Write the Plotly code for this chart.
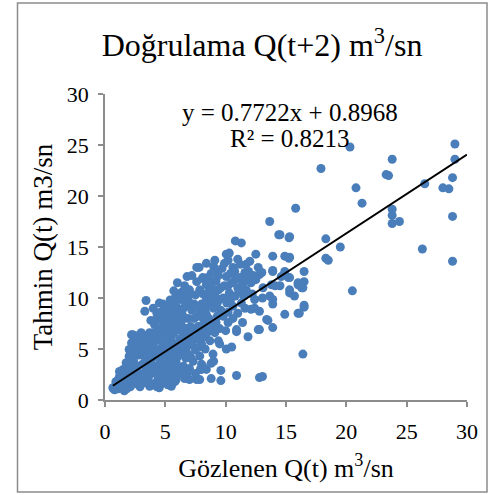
import plotly.graph_objects as go

obs = [
    29.0, 29.0, 28.8, 28.0, 28.5, 28.8, 28.8, 26.5, 26.3, 23.8, 23.3, 23.5, 20.8, 21.3, 23.8, 23.8, 23.8, 24.4,
    20.3, 17.9, 18.3, 19.5, 15.8, 14.5, 15.3, 20.5, 18.3, 18.5, 16.5, 16.5, 16.4, 16.5, 16.1, 16.4,
    15.3, 15.3, 14.5, 15.3, 15.3, 16.0, 16.3, 15.7, 14.9, 16.0, 13.65, 14.4, 15.25, 10.8, 11.3, 12.5, 13.9, 14.9,
    15.25, 10.3, 9.1, 10.2, 12.7, 12.8, 13.9, 15.2, 16.0, 14.1, 13.05, 13.65, 16.5, 11.7, 12.1, 11.4, 8.1, 7.8,
    10.75, 11.2, 13.9, 13.0, 11.7, 11.6, 12.5, 14.9, 14.6, 13.1, 13.8, 12.4, 13.9, 12.1, 13.4, 12.7,
    13.9, 13.5, 13.9, 12.8, 12.4, 12.8, 11.85, 11.4, 10.9, 10.2, 10.5, 10.05, 9.4, 9.5, 9.1, 8.4, 8.95, 9.0,
    8.8, 8.0, 8.0, 9.6, 9.6, 8.8, 10.9, 12.8, 13.05, 7.85, 8.1, 10.9,
    3.4, 4.0, 3.3, 4.8, 5.5, 5.7, 6.0, 6.3, 6.8, 7.6, 8.1, 9.0, 10.05, 6.4, 6.9, 6.3, 7.0, 7.85, 8.4, 9.2,
    9.4, 9.9, 10.05, 8.4, 9.5, 5.9, 6.7, 6.7, 4.25, 2.3, 3.0,
    0.65, 0.9, 1.2, 1.5, 1.75, 2.0, 2.0, 2.2, 2.2, 3.0, 3.7, 4.4, 4.1, 4.5, 4.5, 8.4, 8.4, 7.85, 7.3, 6.9,
    6.7, 7.85, 8.1, 8.4, 5.9, 5.6, 5.9, 6.6, 7.0, 7.6, 6.5, 5.5, 4.9, 0.7, 1.75, 2.9, 3.7, 4.5, 5.2, 4.4,
    5.1, 3.1, 1.2, 0.8, 1.6, 5.5, 5.8, 6.0, 2.2,
    1.0, 1.1, 1.3, 1.4, 1.7, 1.8, 1.9, 1.6, 2.0, 2.1, 2.0, 2.3, 2.4, 2.5, 2.6, 2.5, 2.6,
    2.8, 2.9, 3.0, 3.2, 3.1, 3.3, 3.4, 3.5, 3.3, 3.6, 3.7, 3.8, 3.9, 4.0, 4.1, 3.6,
    4.2, 4.3, 4.4, 4.5, 4.6, 4.7, 4.8, 4.9, 4.7, 5.0, 4.3, 3.8,
    5.0, 5.2, 5.3, 5.4, 5.5, 5.6, 5.7, 5.3, 5.8, 5.2, 5.0,
    6.0, 6.1, 6.2, 6.3, 6.2, 6.4, 6.0, 6.5, 6.3,
    6.8, 7.0, 7.1, 6.9, 7.2, 7.4, 7.0, 7.3, 7.5, 7.6, 7.8, 7.7, 7.9,
    8.2, 8.3, 8.6, 8.7, 8.9, 8.5, 8.8, 9.2, 9.0, 9.3, 8.0, 8.3, 8.9, 9.6, 9.8, 9.7,
    10.1, 10.3, 10.5, 10.2, 10.6, 10.8, 11.0, 11.2, 10.6, 11.0, 11.3, 11.5, 11.8, 10.4,
    0.9, 1.1, 1.2, 1.4, 1.5, 1.3,
    1.7, 1.8, 1.9, 2.1, 2.2, 2.3, 2.4, 2.4, 2.2, 2.6, 2.7, 2.5, 2.8, 2.7, 2.8,
    3.0, 3.0, 3.1, 3.2, 3.3, 3.4, 3.5, 3.5, 3.6, 3.7, 3.8, 3.9, 3.9, 4.0, 4.0, 4.1, 4.2, 4.2, 4.3,
    4.4, 4.4, 4.5, 4.5, 4.6, 4.6, 4.7, 4.8, 4.8, 4.8, 4.9, 5.0, 5.0, 4.6,
    5.1, 5.2, 5.3, 5.4, 5.5, 5.6, 5.6, 5.7, 5.8, 5.9, 5.9, 6.0, 5.4, 5.8, 5.5,
    6.1, 6.2, 6.3, 6.4, 6.5, 6.6, 6.6, 6.7, 6.8, 6.9, 6.8, 6.1, 6.6, 7.0,
    7.1, 7.2, 7.3, 7.4, 7.5, 7.6, 7.7, 7.8, 7.9, 7.2, 7.5, 7.9,
    8.0, 8.1, 8.2, 8.3, 8.5, 8.6, 8.7, 8.8, 9.0, 8.4, 8.7,
    9.1, 9.3, 9.4, 9.5, 9.6, 9.8, 9.9, 9.2, 10.0,
    10.2, 10.4, 10.6, 10.8, 11.0, 11.1, 11.4, 11.6, 11.9, 12.2, 12.0, 12.3,
]
pred = [
    25.1, 23.6, 21.8, 20.8, 20.7, 18.0, 13.6, 21.2, 14.8, 23.6, 22.1, 22.0, 20.8, 19.3, 18.7, 18.1, 17.3, 17.5,
    24.8, 22.7, 15.8, 15.0, 18.8, 16.2, 16.0, 10.7, 13.9, 13.7, 12.6, 11.6, 11.0, 9.1, 8.5, 4.5,
    14.0, 12.0, 11.2, 10.8, 10.5, 11.5, 11.0, 10.2, 8.4, 8.5, 17.5, 16.2, 15.9, 15.6, 15.4, 14.3, 14.1, 14.1,
    13.9, 14.4, 13.7, 13.7, 13.0, 12.3, 12.7, 12.0, 11.3, 11.2, 10.0, 10.2, 9.3, 10.8, 11.5, 12.0, 12.0, 13.0,
    12.6, 13.3, 12.6, 12.5, 13.3, 12.5, 11.8, 12.6, 12.1, 11.0, 11.3, 9.85, 9.85, 8.9, 7.9, 6.9,
    9.4, 7.8, 7.1, 6.9, 9.0, 8.7, 6.2, 7.6, 6.7, 7.6, 5.2, 5.0, 5.8, 5.5, 6.6, 6.5, 4.5, 3.8,
    3.6, 3.5, 3.0, 2.9, 1.9, 2.1, 2.4, 2.2, 2.3, 2.0, 6.6, 6.9,
    9.75, 9.0, 8.7, 9.4, 9.4, 10.7, 11.5, 10.5, 12.1, 13.0, 11.9, 13.1, 14.3, 10.6, 10.2, 9.85, 9.5, 10.8, 11.3, 11.65,
    10.8, 11.2, 12.1, 9.85, 9.85, 9.2, 9.2, 9.7, 7.9, 6.4, 6.4,
    1.2, 1.8, 2.3, 3.0, 3.65, 4.3, 4.95, 5.6, 6.4, 6.6, 6.6, 6.6, 7.4, 7.9, 9.5, 8.4, 6.6, 7.2, 5.9, 4.5,
    4.1, 4.3, 3.3, 3.0, 3.65, 2.8, 2.0, 2.1, 2.0, 2.0, 4.95, 4.6, 3.3, 1.1, 1.2, 1.3, 1.35, 1.2, 1.5, 2.2,
    2.3, 2.0, 2.8, 1.0, 0.9, 1.35, 1.8, 2.7, 4.8,
    1.5, 2.0, 1.4, 2.5, 1.6, 2.4, 3.2, 2.0, 1.8, 2.8, 3.6, 4.0, 5.0, 5.8, 1.6, 2.4, 3.3,
    4.4, 5.2, 5.9, 2.6, 3.5, 4.2, 5.0, 5.8, 1.7, 2.2, 3.0, 3.8, 4.6, 5.4, 6.2, 6.2,
    1.7, 2.7, 3.4, 4.2, 5.0, 5.8, 6.6, 7.3, 8.2, 8.6, 8.5, 7.8,
    1.9, 2.9, 3.9, 5.4, 6.2, 7.0, 7.8, 8.9, 8.5, 6.8, 4.4,
    4.2, 5.2, 6.0, 6.8, 7.6, 8.4, 9.0, 3.3, 2.6,
    5.6, 6.4, 7.2, 8.0, 8.8, 9.4, 3.1, 3.8, 4.9, 6.0, 6.6, 8.2, 9.0,
    7.8, 8.8, 9.3, 10.2, 10.9, 10.5, 12.4, 12.6, 9.0, 8.2, 5.5, 5.0, 7.3, 8.8, 10.0, 12.9,
    9.5, 10.5, 11.5, 8.6, 9.2, 10.2, 11.0, 12.0, 13.0, 8.5, 9.5, 10.2, 11.8, 12.4,
    1.3, 1.1, 1.7, 1.9, 1.2, 2.2,
    2.8, 1.1, 2.0, 1.3, 2.2, 3.2, 1.9, 3.7, 4.4, 4.4, 5.0, 6.3, 6.0, 2.8, 1.9,
    1.6, 2.4, 4.8, 5.5, 6.3, 3.2, 2.0, 4.0, 4.8, 5.6, 2.6, 1.5, 3.4, 4.2, 6.6, 5.0, 3.0, 5.8, 1.3,
    2.5, 4.6, 6.2, 7.0, 3.0, 3.8, 1.6, 2.6, 4.4, 5.4, 6.2, 7.8, 9.0, 8.6,
    3.4, 4.8, 6.0, 7.4, 8.2, 3.3, 5.6, 6.6, 4.2, 5.0, 7.2, 8.0, 9.8, 10.0, 2.2,
    3.0, 4.6, 5.6, 7.2, 9.0, 6.2, 8.0, 5.0, 7.0, 9.8, 2.6, 10.1, 11.2, 10.8,
    4.2, 5.4, 6.8, 8.0, 10.3, 11.6, 7.2, 5.2, 8.6, 12.2, 2.6, 3.0,
    9.4, 10.4, 6.2, 7.2, 12.0, 8.0, 5.8, 9.8, 11.6, 13.4, 6.8,
    10.3, 9.5, 12.2, 7.0, 11.0, 8.2, 13.4, 7.6, 6.8,
    11.2, 9.8, 8.0, 11.8, 13.8, 10.6, 11.4, 9.0, 12.6, 10.4, 13.6, 12.2,
]

# Linear trendline (from the chart's equation)
slope = 0.7722
intercept = 0.8968
trend_x = [min(obs), 30]
trend_y = [slope * v + intercept for v in trend_x]

x_ticks = [0, 5, 10, 15, 20, 25, 30]
y_ticks = [0, 5, 10, 15, 20, 25, 30]

FONT = "Liberation Serif"

fig = go.Figure()
fig.add_trace(go.Scatter(
    x=obs, y=pred, mode="markers",
    marker=dict(size=9, color="#4a7ebb", line=dict(width=0)),
    showlegend=False, hoverinfo="x+y",
))
fig.add_trace(go.Scatter(
    x=trend_x, y=trend_y, mode="lines",
    line=dict(color="black", width=2),
    showlegend=False, hoverinfo="skip",
))

axis_common = dict(
    showgrid=False, zeroline=False, showline=True, linecolor="#8c8c8c", linewidth=1.5,
    ticks="outside", tickcolor="#8c8c8c", ticklen=5, tickwidth=1.5,
    tickfont=dict(family=FONT, size=22, color="black"),
)

L, R, T, B = 105, 27, 94, 95
W, H = 494, 495
PW, PH = W - L - R, H - T - B


def px_x(p):
    return (p - L) / PW


def px_y(p):
    return (H - B - p) / PH


fig.update_layout(
    width=W, height=H,
    margin=dict(l=L, r=R, t=T, b=B),
    paper_bgcolor="white", plot_bgcolor="white",
    font=dict(family=FONT, color="black"),
    title=dict(text="Doğrulama Q(t+2) m<sup>3</sup>/sn", x=262 / W, xanchor="center",
               y=1 - 45 / H, yanchor="middle", font=dict(family=FONT, size=32, color="black")),
    xaxis=dict(range=[0, 30], tickvals=x_ticks, ticktext=[str(v) for v in x_ticks],
               ticklabelstandoff=6,
               title=dict(text="Gözlenen Q(t) m<sup>3</sup>/sn", font=dict(family=FONT, size=26), standoff=16),
               **axis_common),
    yaxis=dict(range=[0, 30], tickvals=y_ticks, ticktext=[str(v) for v in y_ticks],
               ticklabelstandoff=5,
               title=dict(text="Tahmin Q(t) m3/sn", font=dict(family=FONT, size=27), standoff=6),
               **axis_common),
    annotations=[
        dict(text="y = 0.7722x + 0.8968", x=px_x(290), y=px_y(112), xref="paper", yref="paper",
             showarrow=False, xanchor="center", yanchor="middle", font=dict(family=FONT, size=25, color="black")),
        dict(text="R² = 0.8213", x=px_x(290), y=px_y(138), xref="paper", yref="paper",
             showarrow=False, xanchor="center", yanchor="middle", font=dict(family=FONT, size=25, color="black")),
    ],
    shapes=[dict(type="rect", xref="paper", yref="paper",
                 x0=px_x(17.5), x1=px_x(487), y0=px_y(492), y1=px_y(3),
                 line=dict(color="#8c8c8c", width=1.5), fillcolor="rgba(0,0,0,0)", layer="below")],
)

fig.write_html("out.html", config={"displayModeBar": False},
               post_script="document.body.style.margin='0';document.body.style.padding='0';")
